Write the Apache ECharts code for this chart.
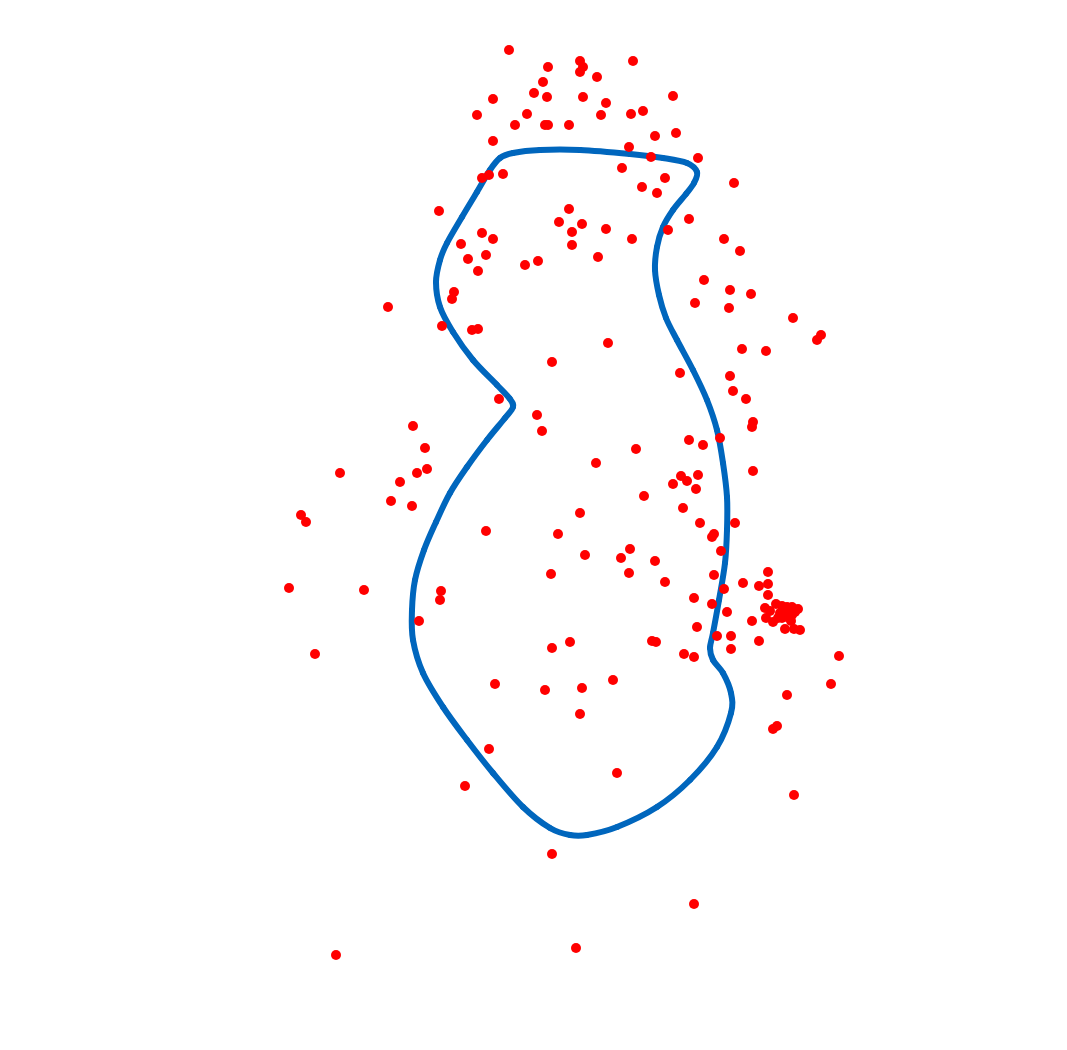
<!DOCTYPE html>
<html>
<head>
<meta charset="utf-8">
<script src="https://cdn.jsdelivr.net/npm/echarts@6/dist/echarts.min.js"></script>
<style>html,body{margin:0;padding:0;background:#fff}#c{width:1067px;height:1050px}</style>
</head>
<body>
<div id="c"></div>
<script>
// Red scatter points [x, y] (y grows downward)
const scatterPoints = [
[509,50],[548,67],[580,61],[583,67],[580,72],[633,61],[597,77],[543,82],[534,93],[547,97],[493,99],[583,97],[606,103],[673,96],[477,115],[527,114],[601,115],[631,114],[643,111],[515,125],[545,125],[548,125],[569,125],[655,136],[676,133],[493,141],[629,147],[651,157],[698,158],[622,168],[482,178],[489,175],[503,174],[665,178],[734,183],[642,187],[657,193],
[439,211],[569,209],[559,222],[582,224],[606,229],[572,232],[632,239],[482,233],[493,239],[461,244],[572,245],[689,219],[668,230],[724,239],[740,251],[486,255],[468,259],[538,261],[525,265],[598,257],[478,271],
[704,280],[730,290],[751,294],[695,303],[729,308],[454,292],[452,299],[388,307],[793,318],[821,335],[817,340],[442,326],[472,330],[478,329],[608,343],[742,349],[766,351],[552,362],[680,373],[730,376],[733,391],[746,399],[499,399],[537,415],[542,431],[753,422],[752,427],[413,426],[720,438],[689,440],[703,445],[636,449],[425,448],[596,463],[753,471],[340,473],[417,473],[427,469],[681,476],[698,475],[687,481],[673,484],[696,489],[400,482],[644,496],[391,501],[412,506],[683,508],[580,513],[301,515],[306,522],[700,523],[735,523],[486,531],
[558,534],[714,534],[712,537],[630,549],[585,555],[621,558],[721,551],[655,561],[551,574],[629,573],[714,575],[665,582],[743,583],[759,586],[768,572],[768,584],[768,595],[724,589],[289,588],[364,590],[441,591],[440,600],[694,598],[712,604],[727,612],
[765,608],[770,611],[776,604],[782,606],[787,607],[792,607],[798,609],[780,613],[785,612],[790,611],[795,612],[782,618],[787,617],[792,615],[778,618],[766,618],[773,622],[791,621],[752,621],[785,629],[794,629],[800,630],
[419,621],[697,627],[717,636],[731,636],[759,641],[652,641],[656,642],[570,642],[552,648],[731,649],[684,654],[694,657],[839,656],[315,654],[613,680],[582,688],[831,684],[495,684],[545,690],[787,695],[580,714],[777,726],[773,729],[489,749],[617,773],[465,786],[794,795],[552,854],[694,904],[576,948],[336,955]
];
// Blue closed boundary curve control points [x, y] (closed loop)
const boundaryCurve = [
[500,158],[513,153],[540,150],[580,150],[630,154],[663,158],[687,163],[697,172],[694,183],[686,194],[673,210],[663,227],[657,247],[655,270],[659,295],[666,318],[677,340],[693,370],[707,400],[717,430],[723,463],[727,497],[727,530],[725,563],[719,600],[713,633],[710,648],[713,660],[723,673],[731,693],[731,713],[717,747],[690,780],[657,807],[617,827],[587,835],[570,835],[550,828],[523,807],[493,773],[467,740],[443,707],[423,673],[413,640],[412,610],[415,580],[424,550],[436,522],[450,493],[467,467],[487,440],[505,418],[513,407],[510,399],[497,385],[473,360],[453,332],[440,307],[436,282],[440,260],[447,243],[462,217],[477,192],[490,170]
];

const chart = echarts.init(document.getElementById('c'), null, {renderer:'canvas'});
chart.setOption({
  animation: false,
  backgroundColor: '#ffffff',
  grid: {left: 0, right: 0, top: 0, bottom: 0},
  xAxis: {type: 'value', min: 0, max: 1067, show: false},
  yAxis: {type: 'value', min: 0, max: 1050, inverse: true, show: false},
  series: [
    {
      type: 'custom',
      coordinateSystem: 'cartesian2d',
      data: [[0, 0]],
      z: 1,
      silent: true,
      renderItem: function (params, api) {
        const pts = boundaryCurve.map(p => api.coord(p));
        const n = pts.length;
        const children = [];
        for (let i = 0; i < n; i++) {
          const p0 = pts[(i - 1 + n) % n], p1 = pts[i], p2 = pts[(i + 1) % n], p3 = pts[(i + 2) % n];
          children.push({
            type: 'bezierCurve',
            shape: {
              x1: p1[0], y1: p1[1], x2: p2[0], y2: p2[1],
              cpx1: p1[0] + (p2[0] - p0[0]) / 6, cpy1: p1[1] + (p2[1] - p0[1]) / 6,
              cpx2: p2[0] - (p3[0] - p1[0]) / 6, cpy2: p2[1] - (p3[1] - p1[1]) / 6
            },
            style: {stroke: '#0066bd', lineWidth: 6, fill: null, lineCap: 'round'}
          });
        }
        return {type: 'group', children: children};
      }
    },
    {
      type: 'scatter',
      data: scatterPoints,
      symbolSize: 10,
      itemStyle: {color: '#ff0000', opacity: 1},
      z: 2
    }
  ]
});
</script>
</body>
</html>
